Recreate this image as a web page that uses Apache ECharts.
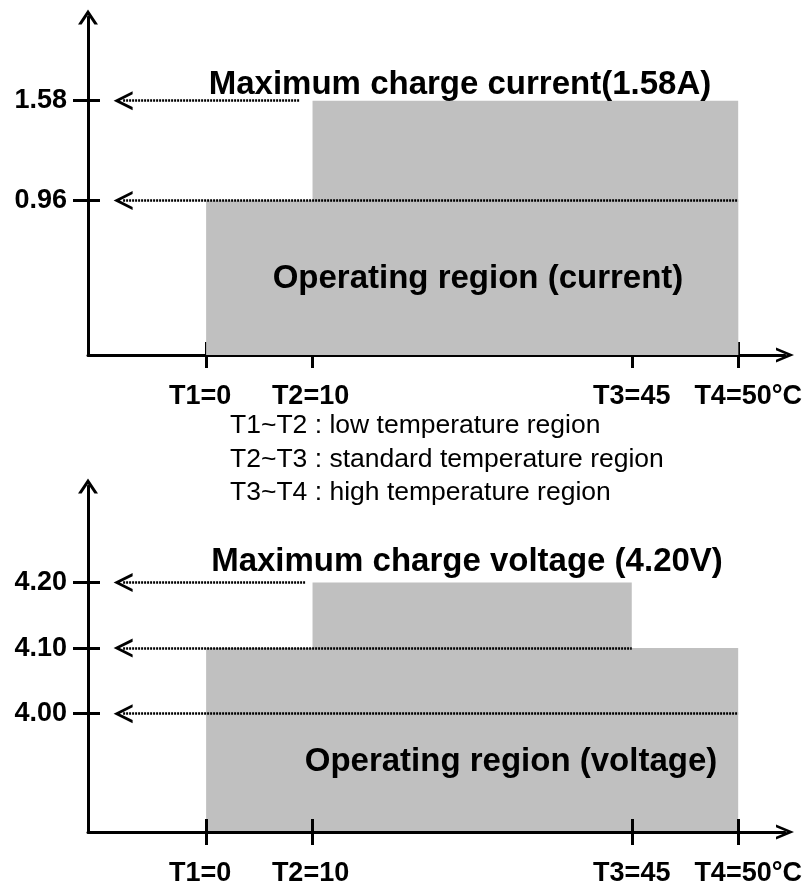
<!DOCTYPE html>
<html>
<head>
<meta charset="utf-8">
<script src="https://cdn.jsdelivr.net/npm/echarts@6/dist/echarts.min.js"></script>
<style>html,body{margin:0;padding:0;background:#fff;}#chart{width:807px;height:887px;}</style>
</head>
<body>
<div id="chart"></div>
<script>
// ---- Temperature break points (x axis) ----
const tempLabels = ['T1=0', 'T2=10', 'T3=45', 'T4=50°C'];
const tempValues = [0, 10, 45, 50];          // °C
const tempPos = [1, 2, 5, 6];                // schematic (non-proportional) spacing used by the diagram

// ---- Charge current diagram ----
const currentTicks = [0.96, 1.58];
// regions: [from temp index, to temp index, upper limit (A)]
const currentRegions = [[0, 3, 0.96], [1, 3, 1.58]];
// guide lines: [level, start pos, end pos]
const currentGuides = [[1.58, 0.22, 1.88], [0.96, 0.22, 6.0]];
const currentTitle = 'Maximum charge current(1.58A)';
const currentRegionLabel = 'Operating region (current)';

// ---- Charge voltage diagram ----
const voltageTicks = [4.00, 4.10, 4.20];
const voltageRegions = [[0, 3, 4.10], [1, 2, 4.20]];
const voltageGuides = [[4.20, 0.22, 1.93], [4.10, 0.22, 5.0], [4.00, 0.22, 6.0]];
const voltageTitle = 'Maximum charge voltage (4.20V)';
const voltageRegionLabel = 'Operating region (voltage)';

// ---- Legend notes ----
const notes = ['T1~T2 : low temperature region', 'T2~T3 : standard temperature region', 'T3~T4 : high temperature region'];

const FONT = '"Liberation Sans", Arial, Helvetica, sans-serif';
const ARROW_Y = 'path://M10,0 L20,15 L16.4,15 L10,5.4 L3.6,15 L0,15 Z';
const ARROW_X = 'path://M7.5,0 L15,18 L12.2,18 L7.5,6.75 L2.8,18 L0,18 Z';
const GUIDE_ARROW = 'path://M9.5,0 L19,19 L15.9,19 L9.5,6.26 L3.1,19 L0,19 Z';

const X_MIN = -0.11, X_MAX = 6.44;

// per-label horizontal nudges (rich padding keys)
const labelStyleKeys = ['a', 'b', 'c', 'd'];
const labelRich = {};
const richPads = [[0, 12, 0, 0], [0, 4, 0, 0], [0, 0, 0, 0], [0, 0, 0, 20]];
labelStyleKeys.forEach((k, i) => {
  labelRich[k] = { fontFamily: FONT, fontWeight: 'bold', fontSize: 27, color: '#000', padding: richPads[i] };
});

function xAxes(gridIndex, zTop) {
  const base = {
    type: 'value', gridIndex: gridIndex, min: X_MIN, max: X_MAX, position: 'bottom',
    splitLine: { show: false }, z: zTop
  };
  return [
    Object.assign({}, base, {
      axisLine: { show: true, onZero: false, lineStyle: { color: '#000', width: 3 },
        symbol: ['none', ARROW_X], symbolSize: [15, 18] },
      axisTick: { show: true, inside: false, length: 13, customValues: tempPos,
        lineStyle: { color: '#000', width: 3 } },
      axisLabel: { show: true, customValues: tempPos, margin: 28, color: '#000',
        fontFamily: FONT, fontWeight: 'bold', fontSize: 27, rich: labelRich,
        formatter: v => { const i = tempPos.indexOf(v); return '{' + labelStyleKeys[i] + '|' + tempLabels[i] + '}'; } }
    }),
    Object.assign({}, base, {
      axisLine: { show: false, onZero: false },
      axisTick: { show: true, inside: true, length: 13, customValues: tempPos,
        lineStyle: { color: '#000', width: 3 } },
      axisLabel: { show: false }
    })
  ];
}

function yAxes(gridIndex, min, max, ticks, zTop) {
  const base = { type: 'value', gridIndex: gridIndex, min: min, max: max, position: 'left',
    splitLine: { show: false }, z: zTop };
  return [
    Object.assign({}, base, {
      axisLine: { show: true, onZero: false, lineStyle: { color: '#000', width: 3 },
        symbol: ['none', ARROW_Y], symbolSize: [20, 15] },
      axisTick: { show: true, inside: false, length: 15, customValues: ticks,
        lineStyle: { color: '#000', width: 3 } },
      axisLabel: { show: true, customValues: ticks, margin: 21, color: '#000',
        fontFamily: FONT, fontWeight: 'bold', fontSize: 27, padding: [8, 0, 0, 0],
        formatter: v => v.toFixed(2) }
    }),
    Object.assign({}, base, {
      axisLine: { show: false, onZero: false },
      axisTick: { show: true, inside: true, length: 12, customValues: ticks,
        lineStyle: { color: '#000', width: 3 } },
      axisLabel: { show: false }
    })
  ];
}

function regionSeries(xi, yi, regions, yMin) {
  return {
    type: 'line', xAxisIndex: xi, yAxisIndex: yi, z: 2,
    data: [[tempPos[0], yMin]], showSymbol: false, symbolSize: 0,
    lineStyle: { width: 0, opacity: 0 }, silent: true, animation: false,
    markArea: {
      silent: true,
      itemStyle: { color: '#c0c0c0', opacity: 1, borderWidth: 0 },
      label: { show: false },
      data: regions.map(r => [
        { coord: [tempPos[r[0]], yMin] },
        { coord: [tempPos[r[1]], r[2]] }
      ])
    }
  };
}

function guideSeries(xi, yi, guides, yMin) {
  return {
    type: 'line', xAxisIndex: xi, yAxisIndex: yi, z: 3,
    data: [[tempPos[0], yMin]], showSymbol: false, symbolSize: 0,
    lineStyle: { width: 0, opacity: 0 }, silent: true, animation: false,
    markLine: {
      silent: true, animation: false,
      symbol: [GUIDE_ARROW, 'none'], symbolSize: [19, 19],
      label: { show: false },
      lineStyle: { color: '#000', width: 2.5, type: [2, 1] },
      emphasis: { disabled: true },
      data: guides.map(g => [
        { coord: [g[1], g[0]], symbol: GUIDE_ARROW, symbolSize: [19, 19] },
        { coord: [g[2], g[0]], symbol: 'none' }
      ])
    }
  };
}

const V_MIN = 3.8195, V_MAX = 4.3473;

const chart = echarts.init(document.getElementById('chart'), null, { renderer: 'canvas' });

const textEl = (x, y, text, size, weight, align) => ({
  type: 'text', z: 100, silent: true,
  style: { x: x, y: y, text: text, fill: '#000', font: weight + ' ' + size + 'px ' + FONT,
    align: align, verticalAlign: 'middle' }
});

chart.setOption({
  animation: false,
  backgroundColor: '#fff',
  grid: [
    { left: 88, top: 17, width: 697, height: 338, containLabel: false },
    { left: 88, top: 486, width: 697, height: 351, containLabel: false }
  ],
  xAxis: [].concat(xAxes(0, 0), xAxes(1, 5)),
  yAxis: [].concat(yAxes(0, 0, 2.1, currentTicks, 0), yAxes(1, V_MIN, V_MAX, voltageTicks, 5)),
  series: [
    regionSeries(0, 0, currentRegions, 0),
    guideSeries(0, 0, currentGuides, 0),
    regionSeries(2, 2, voltageRegions, V_MIN),
    guideSeries(2, 2, voltageGuides, V_MIN)
  ],
  graphic: [
    textEl(460, 85, currentTitle, 33, 'bold', 'center'),
    textEl(478, 279, currentRegionLabel, 33, 'bold', 'center'),
    textEl(230, 426, notes[0], 26.5, 'normal', 'left'),
    textEl(230, 459.5, notes[1], 26.5, 'normal', 'left'),
    textEl(230, 493, notes[2], 26.5, 'normal', 'left'),
    textEl(467, 562, voltageTitle, 33, 'bold', 'center'),
    textEl(511, 762, voltageRegionLabel, 33, 'bold', 'center')
  ]
});
</script>
</body>
</html>
